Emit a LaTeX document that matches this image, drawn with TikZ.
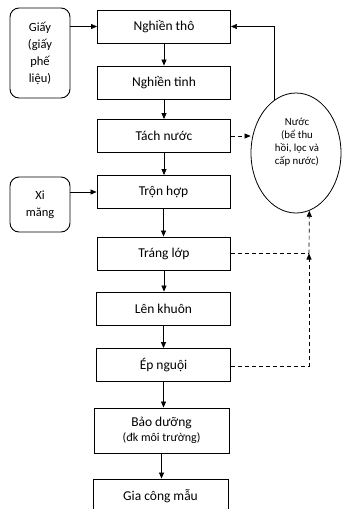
\documentclass[tikz,border=0pt]{standalone}
\usepackage{fontspec}
\setmainfont{Carlito}
\usetikzlibrary{arrows.meta,shapes.geometric}
\begin{document}
\begin{tikzpicture}[x=1pt,y=-1pt,
  box/.style={draw, line width=0.9pt, minimum width=133pt, minimum height=33pt, inner sep=0pt, align=center, font=\fontsize{13.5}{16}\selectfont},
  side/.style={draw, line width=0.9pt, rounded corners=9pt, minimum width=60pt, inner sep=0pt, align=center, font=\fontsize{12.5}{17}\selectfont},
  arr/.style={-{Triangle[length=6pt,width=5pt]}, line width=0.7pt},
  darr/.style={-{Triangle[length=6pt,width=5pt]}, line width=0.7pt, dash pattern=on 4pt off 3pt},
  dline/.style={line width=0.7pt, dash pattern=on 4pt off 3pt}]
\useasboundingbox (0,0) rectangle (342,509);
\clip (0,0) rectangle (342,509);
\fill[white] (0,0) rectangle (342,509);

\node[box] (b1) at (164,26.5) {Nghiền thô};
\node[box] (b2) at (164,82.5) {Nghiền tinh};
\node[box] (b3) at (164,136) {Tách nước};
\node[box] (b4) at (163.5,192) {Trộn hợp};
\node[box] (b5) at (164,253.5) {Tráng lớp};
\node[box, minimum width=134pt] (b6) at (163.5,308.5) {Lên khuôn};
\node[box, minimum width=134pt] (b7) at (163.5,365) {Ép nguội};
\node[box, minimum width=135pt, minimum height=45pt] (b8) at (161.5,430.5) {Bảo dưỡng\\[-1pt]{\fontsize{12}{14}\selectfont(đk môi trường)}};
\node[box, minimum width=135pt, minimum height=34pt] (b9) at (160.5,496) {Gia công mẫu};

\node[side, minimum height=90pt] (giay) at (40,53) {Giấy\\(giấy\\phế\\liệu)};
\node[side, minimum height=55pt] (xi) at (40,204.5) {Xi\\măng};

\node[draw, ellipse, line width=0.8pt, minimum width=90pt, minimum height=120pt, inner sep=0pt] (ell) at (296,153) {};
\node[align=center, inner sep=0pt, font=\fontsize{10.8}{12.8}\selectfont] (elltext) at (297,142) {Nước\\(bể thu\\hồi, lọc và\\cấp nước)};

\draw[arr] (giay.east |- b1.west) -- (b1.west);
\draw[arr] (xi.east |- b4.west) -- (b4.west);
\draw[arr] (b1.south) -- (b2.north);
\draw[arr] (b2.south) -- (b3.north);
\draw[arr] (b3.south) -- (b3.south |- b4.north);
\draw[arr] (b4.south) -- (b4.south |- b5.north);
\draw[arr] (b5.south) -- (b5.south |- b6.north);
\draw[arr] (b6.south) -- (b6.south |- b7.north);
\draw[arr] (b7.south) -- (b7.south |- b8.north);
\draw[arr] (b8.south) -- (b8.south |- b9.north);

\draw[arr, line width=0.5pt] (ell.112) |- (b1.east);
\draw[darr] (b3.east) -- (b3.east -| ell.west);

\coordinate (j1) at (309,253.5);
\coordinate (j2) at (309,366);
\draw[dline] (b5.east) -- (j1);
\draw[darr] (b7.east |- j2) -- (j2) -- (j1);
\draw[darr] (j1) -- (ell.-77);
\end{tikzpicture}
\end{document}
